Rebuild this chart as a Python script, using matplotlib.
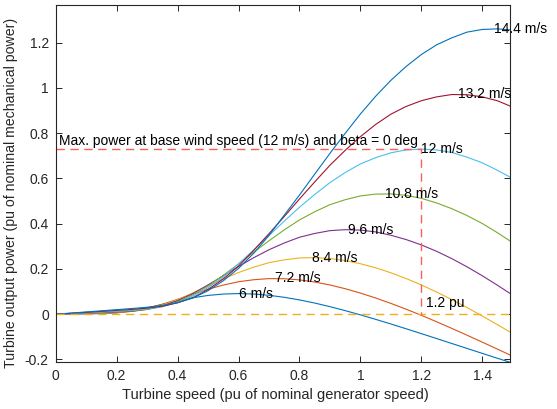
import numpy as np
import matplotlib
matplotlib.use("Agg")
import matplotlib.pyplot as plt

plt.rcParams['font.family'] = ['Liberation Sans', 'DejaVu Sans']

# turbine speed (pu), shared by all curves
speed = [0, 0.05, 0.1, 0.15, 0.2, 0.25, 0.3, 0.35, 0.4, 0.45, 0.5, 0.55, 0.6, 0.65,
         0.7, 0.75, 0.8, 0.85, 0.9, 0.95, 1.0, 1.05, 1.1, 1.15, 1.2, 1.25, 1.3,
         1.35, 1.4, 1.45, 1.49]

wind_labels = ['6 m/s', '7.2 m/s', '8.4 m/s', '9.6 m/s', '10.8 m/s', '12 m/s', '13.2 m/s', '14.4 m/s']

p_6 = [0, 0.0009, 0.0017, 0.0029, 0.0064, 0.0146, 0.0278, 0.0434, 0.0591, 0.0727, 0.0830,
       0.0892, 0.0912, 0.0893, 0.0836, 0.0748, 0.0632, 0.0494, 0.0334, 0.0159, -0.0028,
       -0.0226, -0.0431, -0.0642, -0.0857, -0.1074, -0.1293, -0.1511, -0.1730, -0.1947, -0.2119]
p_72 = [0, 0.0013, 0.0025, 0.0039, 0.0064, 0.0130, 0.0253, 0.0439, 0.0658, 0.0888, 0.1104,
        0.1288, 0.1434, 0.1524, 0.1573, 0.1568, 0.1517, 0.1423, 0.1292, 0.1128, 0.0935,
        0.0717, 0.0479, 0.0223, -0.0048, -0.0332, -0.0626, -0.0927, -0.1233, -0.1543, -0.1794]
p_84 = [0, 0.0017, 0.0034, 0.0052, 0.0075, 0.0123, 0.0227, 0.0402, 0.0642, 0.0944, 0.1255,
        0.1561, 0.1841, 0.2081, 0.2277, 0.2403, 0.2486, 0.2502, 0.2465, 0.2369, 0.2232,
        0.2052, 0.1832, 0.1578, 0.1294, 0.0982, 0.0648, 0.0294, -0.0077, -0.0462, -0.0779]
p_96 = [0, 0.0022, 0.0045, 0.0067, 0.0093, 0.0131, 0.0212, 0.0364, 0.0600, 0.0911, 0.1297,
        0.1697, 0.2106, 0.2498, 0.2848, 0.3147, 0.3400, 0.3568, 0.3693, 0.3735, 0.3717,
        0.3638, 0.3490, 0.3300, 0.3063, 0.2781, 0.2457, 0.2095, 0.1701, 0.1280, 0.0928]
p_108 = [0, 0.0028, 0.0057, 0.0085, 0.0114, 0.0153, 0.0216, 0.0333, 0.0550, 0.0854, 0.1242,
         0.1721, 0.2221, 0.2742, 0.3246, 0.3725, 0.4165, 0.4527, 0.4840, 0.5059, 0.5227,
         0.5308, 0.5315, 0.5253, 0.5121, 0.4918, 0.4664, 0.4360, 0.4010, 0.3601, 0.3248]
p_12 = [0, 0.0035, 0.0070, 0.0105, 0.0140, 0.0182, 0.0234, 0.0338, 0.0512, 0.0798, 0.1171,
        0.1643, 0.2222, 0.2841, 0.3475, 0.4112, 0.4725, 0.5291, 0.5813, 0.6260, 0.6640,
        0.6917, 0.7133, 0.7260, 0.7299, 0.7260, 0.7146, 0.6941, 0.6690, 0.6359, 0.6068]
p_132 = [0, 0.0042, 0.0084, 0.0127, 0.0170, 0.0213, 0.0273, 0.0352, 0.0506, 0.0725, 0.1093,
         0.1559, 0.2125, 0.2824, 0.3557, 0.4314, 0.5091, 0.5844, 0.6581, 0.7239, 0.7846,
         0.8384, 0.8838, 0.9180, 0.9433, 0.9603, 0.9708, 0.9700, 0.9607, 0.9431, 0.9208]
p_144 = [0, 0.0050, 0.0100, 0.0151, 0.0201, 0.0252, 0.0308, 0.0386, 0.0512, 0.0715, 0.1038,
         0.1477, 0.2024, 0.2694, 0.3482, 0.4376, 0.5264, 0.6189, 0.7106, 0.7989, 0.8846,
         0.9629, 1.0333, 1.0946, 1.1474, 1.1902, 1.2212, 1.2465, 1.2583, 1.2609, 1.2567]

# where each label sits (speed and power at the curve maximum)
peak_speed = [0.6, 0.72, 0.84, 0.96, 1.08, 1.2, 1.32, 1.44]
peak_power = [0.0913, 0.158, 0.25, 0.374, 0.532, 0.73, 0.972, 1.261]

base_speed = 1.2
base_power = 0.73

colors = ['#0072BD', '#D95319', '#EDB120', '#7E2F8E', '#77AC30', '#4DBEEE', '#A2142F', '#0072BD']
curves = [p_6, p_72, p_84, p_96, p_108, p_12, p_132, p_144]

fig = plt.figure(figsize=(5.57, 4.09), dpi=100)
ax = fig.add_axes([0.1, 0.115, 0.815, 0.872])

for p, c in zip(curves, colors):
    ax.plot(speed, p, color=c, lw=0.8)

ax.plot([0, 1.49], [0, 0], '--', color='#EDB120', lw=1.0, dashes=(6, 4))
ax.plot([0, base_speed, base_speed], [base_power, base_power, 0], '--', color='#FF5C5C',
        lw=1.0, dashes=(6, 4))

for lab, xs, ys in zip(wind_labels, peak_speed, peak_power):
    ax.text(xs, ys, lab, ha='left', va='center', fontsize=10, color='black')

ax.text(0.012, base_power + 0.005, 'Max. power at base wind speed (12 m/s) and beta = 0 deg',
        ha='left', va='bottom', fontsize=10)
ax.text(1.215, 0.05, '1.2 pu', ha='left', va='center', fontsize=10)

ax.set_xlim(0, 1.49)
ax.set_ylim(-0.211, 1.365)
ax.set_xticks([0, 0.2, 0.4, 0.6, 0.8, 1, 1.2, 1.4])
ax.set_xticklabels(['0', '0.2', '0.4', '0.6', '0.8', '1', '1.2', '1.4'])
ax.set_yticks([-0.2, 0, 0.2, 0.4, 0.6, 0.8, 1, 1.2])
ax.set_yticklabels(['-0.2', '0', '0.2', '0.4', '0.6', '0.8', '1', '1.2'])
ax.tick_params(direction='in', length=4, width=0.7, top=True, right=True,
               labelsize=10, colors='#262626', pad=5)
for s in ax.spines.values():
    s.set_color('#262626')
    s.set_linewidth(0.8)

ax.set_xlabel('Turbine speed (pu of nominal generator speed)', fontsize=10.5, color='#262626')
ax.set_ylabel('Turbine output power (pu of nominal mechanical power)', fontsize=10.2, color='#262626')
ax.xaxis.set_label_coords(0.4835, -0.073)
ax.yaxis.set_label_coords(-0.083, 0.475)

fig.savefig('out.png', dpi=100)
